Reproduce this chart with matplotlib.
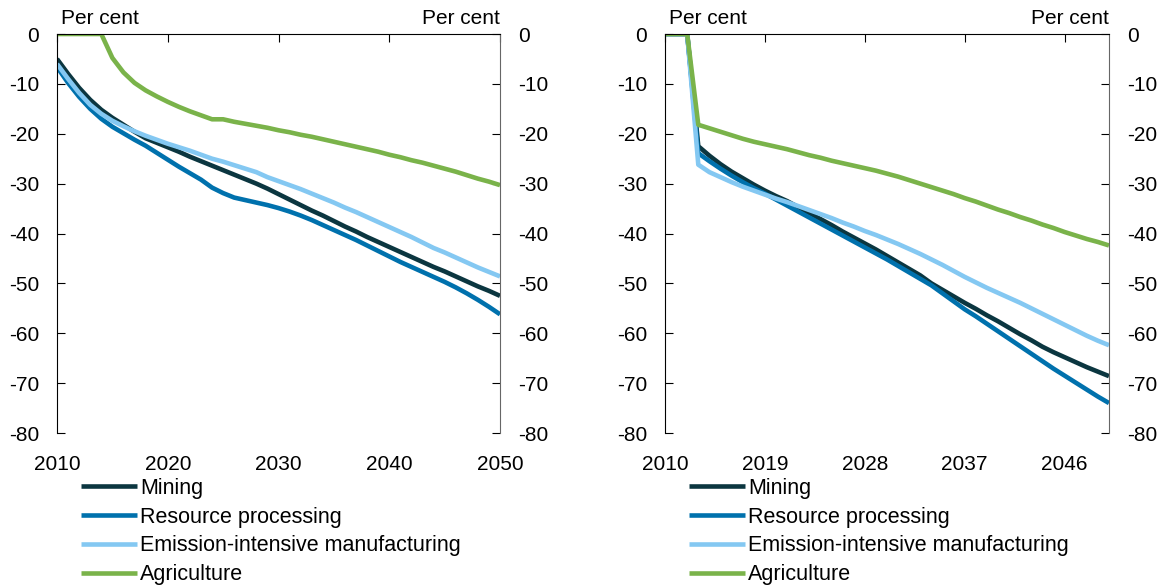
import matplotlib.pyplot as plt

plt.rcParams['font.family'] = ['Liberation Sans', 'DejaVu Sans']
plt.rcParams['font.size'] = 15
plt.rcParams['axes.unicode_minus'] = False

# Data (annual, 2010-2050), per cent
years = list(range(2010, 2051))

mining_l = [-5.0, -8.0, -10.8, -13.2, -15.2, -16.8, -18.2, -19.6, -20.9, -21.8,
            -22.7, -23.6, -24.6, -25.5, -26.4, -27.3, -28.2, -29.1, -30.0, -31.0,
            -32.1, -33.2, -34.3, -35.4, -36.4, -37.5, -38.6, -39.6, -40.7, -41.7,
            -42.7, -43.7, -44.7, -45.7, -46.7, -47.6, -48.6, -49.6, -50.6, -51.5,
            -52.5]
resource_l = [-6.6, -9.8, -12.6, -15.0, -17.0, -18.6, -19.9, -21.2, -22.4, -23.8,
              -25.2, -26.6, -27.9, -29.2, -30.8, -31.9, -32.8, -33.3, -33.8, -34.3,
              -34.9, -35.6, -36.4, -37.3, -38.3, -39.3, -40.3, -41.3, -42.4, -43.5,
              -44.6, -45.7, -46.7, -47.7, -48.7, -49.7, -50.8, -52.0, -53.3, -54.7,
              -56.2]
emission_l = [-6.0, -9.0, -11.8, -14.2, -16.0, -17.4, -18.5, -19.5, -20.4, -21.2,
              -22.0, -22.7, -23.4, -24.2, -25.0, -25.6, -26.3, -27.0, -27.7, -28.7,
              -29.5, -30.3, -31.1, -32.0, -32.9, -33.8, -34.8, -35.7, -36.7, -37.7,
              -38.7, -39.7, -40.7, -41.8, -42.9, -43.8, -44.8, -45.8, -46.8, -47.7,
              -48.6]
agri_l = [0.0, 0.0, 0.0, 0.0, 0.0, -4.8, -7.7, -9.8, -11.3, -12.5,
          -13.6, -14.6, -15.5, -16.3, -17.1, -17.1, -17.6, -18.0, -18.4, -18.8,
          -19.3, -19.7, -20.2, -20.6, -21.1, -21.6, -22.1, -22.6, -23.1, -23.6,
          -24.2, -24.7, -25.3, -25.8, -26.4, -27.0, -27.6, -28.3, -29.0, -29.6,
          -30.3]

mining_r = [0.0, 0.0, 0.0, -22.5, -24.4, -26.1, -27.6, -28.9, -30.2, -31.4,
            -32.5, -33.5, -34.7, -35.9, -37.1, -38.3, -39.6, -40.8, -42.0, -43.2,
            -44.5, -45.8, -47.1, -48.4, -50.0, -51.3, -52.6, -53.9, -55.1, -56.4,
            -57.6, -58.9, -60.2, -61.4, -62.7, -63.8, -64.8, -65.8, -66.8, -67.7,
            -68.6]
resource_r = [0.0, 0.0, 0.0, -23.9, -25.5, -27.0, -28.4, -29.7, -30.9, -32.0,
              -33.2, -34.4, -35.6, -36.8, -38.0, -39.2, -40.4, -41.6, -42.8, -44.0,
              -45.2, -46.5, -47.8, -49.1, -50.4, -52.0, -53.6, -55.2, -56.6, -58.1,
              -59.6, -61.1, -62.6, -64.1, -65.6, -67.1, -68.5, -69.9, -71.3, -72.7,
              -74.0]
emission_r = [0.0, 0.0, 0.0, -26.2, -27.7, -28.7, -29.7, -30.6, -31.4, -32.2,
              -33.0, -33.7, -34.5, -35.3, -36.1, -36.9, -37.8, -38.6, -39.5, -40.3,
              -41.2, -42.1, -43.1, -44.1, -45.2, -46.3, -47.5, -48.7, -49.8, -50.9,
              -51.9, -52.9, -53.9, -55.0, -56.1, -57.2, -58.3, -59.4, -60.5, -61.5,
              -62.4]
agri_r = [0.0, 0.0, 0.0, -18.2, -18.9, -19.6, -20.3, -21.0, -21.6, -22.1,
          -22.6, -23.1, -23.7, -24.3, -24.8, -25.4, -25.9, -26.4, -26.9, -27.4,
          -28.0, -28.6, -29.3, -30.0, -30.7, -31.4, -32.1, -32.9, -33.6, -34.4,
          -35.2, -35.9, -36.7, -37.4, -38.2, -38.9, -39.7, -40.4, -41.1, -41.7,
          -42.4]

labels = ['Mining', 'Resource processing', 'Emission-intensive manufacturing', 'Agriculture']
colors = ['#0b3640', '#0071ad', '#84c8f2', '#7ab34a']

yticks = [0, -10, -20, -30, -40, -50, -60, -70, -80]
xticks_l = [2010, 2020, 2030, 2040, 2050]
xticks_r = [2010, 2019, 2028, 2037, 2046]

fig = plt.figure(figsize=(11.66, 5.86), dpi=100)
ax1 = fig.add_axes([57 / 1166, 1 - 433 / 586, 443 / 1166, 399 / 586])
ax2 = fig.add_axes([665 / 1166, 1 - 433 / 586, 444 / 1166, 399 / 586])

panels = [
    (ax1, [mining_l, resource_l, emission_l, agri_l], xticks_l),
    (ax2, [mining_r, resource_r, emission_r, agri_r], xticks_r),
]

for ax, series, xt in panels:
    for vals, lab, col in zip(series, labels, colors):
        ax.plot(years, vals, color=col, lw=3.3, label=lab, solid_capstyle='butt')
    ax.set_xlim(2010, 2050)
    ax.set_ylim(-80, 0)
    ax.set_xticks(xt)
    ax.set_yticks(yticks)
    ax.spines['bottom'].set_visible(False)
    ax.spines['right'].set_color('#666666')
    ax.tick_params(axis='x', top=True, bottom=False, labeltop=False, labelbottom=True,
                   direction='in', length=6, pad=16)
    ax.tick_params(axis='y', left=True, right=True, labelleft=True, labelright=True,
                   direction='in', length=6, pad=13)
    ax.text(0.01, 1.015, 'Per cent', transform=ax.transAxes, ha='left', va='bottom')
    ax.text(1.0, 1.015, 'Per cent', transform=ax.transAxes, ha='right', va='bottom')
    pos = ax.get_position()
    ax.legend(loc='upper left', bbox_to_anchor=(pos.x0 + 24 / 1166, 1 - 478 / 586),
              bbox_transform=fig.transFigure, frameon=False, handlelength=2.6,
              handletextpad=0.15, labelspacing=0.36, borderaxespad=0, borderpad=0,
              fontsize=15.5)

fig.savefig('out.png', dpi=100)
